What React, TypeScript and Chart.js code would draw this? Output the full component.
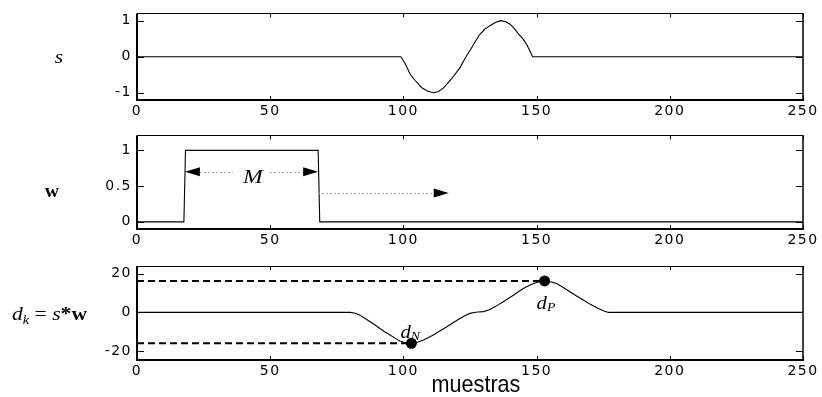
import React, { useEffect, useRef } from "react";
import { Chart, registerables } from "chart.js";

Chart.register(...registerables);

// ---------- data ----------
const xTicks = [0, 50, 100, 150, 200, 250];

// s : input signal
const sX = [0, 99, 100.6, 102.5, 104.4, 106.9, 109, 111.2, 113, 115, 118.1, 121.2, 123.1, 125.6, 128.5, 130.5, 132.5, 134.5, 136.5, 138.5, 140, 141.5, 143.1, 144.8, 146.3, 148.5, 250];
const sY = [0, 0, -0.18, -0.48, -0.66, -0.86, -0.95, -1.0, -0.97, -0.87, -0.61, -0.31, -0.05, 0.25, 0.6, 0.76, 0.86, 0.95, 1.0, 0.97, 0.9, 0.79, 0.64, 0.5, 0.34, 0, 0];
const sYTicks = [-1, 0, 1];

// w : rectangular window
const wX = [0, 17.6, 18.2, 68, 68.6, 250];
const wY = [0, 0, 1, 1, 0, 0];
const wYTicks = [0, 0.5, 1];
const mArrow = [18, 68, 0.7]; // from, to, level
const mLabelX = [43.5];
const shiftArrow = [68, 117, 0.405]; // from, to, level

// d = s * w
const dX = [0, 80, 82, 83.7, 85.5, 87.5, 89.5, 91.2, 93, 95, 96.8, 98.7, 101, 103, 105, 107.5, 109.5, 111.2, 113.8, 116.3, 118.8, 121.2, 123.2, 125, 126.5, 128, 130, 132, 133.7, 135.6, 137.5, 139.4, 141.3, 143.2, 145, 147, 148.8, 151, 153, 155.2, 157.5, 160, 162.5, 165, 167.5, 170, 172.6, 175, 177, 250];
const dY = [0, 0, -0.4, -1.4, -3.0, -4.8, -6.6, -8.3, -10.0, -11.7, -13.3, -14.8, -15.8, -16.2, -15.6, -14.3, -13.0, -11.7, -9.5, -7.4, -5.2, -3.1, -1.6, -0.5, 0.0, 0.2, 0.4, 1.2, 2.4, 3.9, 5.5, 7.2, 8.9, 10.7, 12.4, 13.8, 15.0, 15.9, 16.3, 15.9, 15.0, 12.9, 10.7, 8.5, 6.4, 4.3, 2.4, 0.9, 0, 0];
const dYTicks = [-20, 0, 20];
const dNPoint = [103, -16];
const dPPoint = [153, 16.3];

// ---------- helpers ----------
const TICK_FONT = { family: "'DejaVu Sans', sans-serif", size: 14 };
const TICK_SPACING = "1.5px";
const SERIF = "'Liberation Serif', 'Times New Roman', serif";

function pts(xs: number[], ys: number[]) {
  return xs.map((x, i) => ({ x, y: ys[i] }));
}

function drawFrame(chart: any) {
  const ctx = chart.ctx;
  const { left, right, top, bottom } = chart.chartArea;
  const xs = chart.scales.x;
  const ys = chart.scales.y;
  ctx.save();
  ctx.letterSpacing = "0px";
  ctx.setLineDash([]);
  ctx.strokeStyle = "#000";
  ctx.lineWidth = 1;
  ctx.beginPath();
  xs.ticks.forEach((t: any) => {
    const p = Math.round(xs.getPixelForValue(t.value)) + 0.5;
    ctx.moveTo(p, bottom);
    ctx.lineTo(p, bottom - 4);
    ctx.moveTo(p, top);
    ctx.lineTo(p, top + 4);
  });
  ys.ticks.forEach((t: any) => {
    const p = Math.round(ys.getPixelForValue(t.value)) + 0.5;
    ctx.moveTo(left, p);
    ctx.lineTo(left + 7, p);
    ctx.moveTo(right, p);
    ctx.lineTo(right - 7, p);
  });
  ctx.stroke();
  // box
  ctx.lineWidth = 1;
  ctx.beginPath();
  ctx.moveTo(left, Math.round(top) + 0.5);
  ctx.lineTo(right, Math.round(top) + 0.5);
  ctx.stroke();
  ctx.lineWidth = 1.5;
  ctx.beginPath();
  ctx.moveTo(right, top);
  ctx.lineTo(right, bottom);
  ctx.stroke();
  ctx.lineWidth = 2;
  ctx.beginPath();
  ctx.moveTo(left - 1, Math.round(bottom));
  ctx.lineTo(right + 1, Math.round(bottom));
  ctx.moveTo(Math.round(left), top);
  ctx.lineTo(Math.round(left), bottom);
  ctx.stroke();
  ctx.restore();
}

type Seg = { t: string; f: string; dy?: number };
function drawSegs(ctx: CanvasRenderingContext2D, segs: Seg[], x: number, y: number, sx: number, align: "left" | "center") {
  ctx.save();
  ctx.letterSpacing = "0px";
  ctx.fillStyle = "#000";
  ctx.textBaseline = "alphabetic";
  ctx.textAlign = "left";
  let total = 0;
  segs.forEach((s) => {
    ctx.font = s.f;
    total += ctx.measureText(s.t).width;
  });
  ctx.translate(x, y);
  ctx.scale(sx, 1);
  let cx = align === "center" ? -total / 2 : 0;
  segs.forEach((s) => {
    ctx.font = s.f;
    ctx.fillText(s.t, cx, s.dy || 0);
    cx += ctx.measureText(s.t).width;
  });
  ctx.restore();
}

function arrowHead(ctx: CanvasRenderingContext2D, tip: number, y: number, dir: number) {
  ctx.beginPath();
  ctx.moveTo(tip, y);
  ctx.lineTo(tip - dir * 15, y - 4.5);
  ctx.lineTo(tip - dir * 15, y + 4.5);
  ctx.closePath();
  ctx.fill();
}

function makeOptions(yMin: number, yMax: number, yTicks: number[], padTop: number, xHeight: number, extra: (chart: any) => void) {
  const plugin = {
    id: "frame",
    beforeDraw(chart: any) {
      chart.ctx.letterSpacing = TICK_SPACING;
    },
    afterDraw(chart: any) {
      chart.ctx.letterSpacing = "0px";
      drawFrame(chart);
      extra(chart);
    },
  };
  const options: any = {
    animation: false,
    responsive: false,
    maintainAspectRatio: false,
    layout: { padding: { top: padTop, right: 19, left: 0, bottom: 0 } },
    plugins: { legend: { display: false }, tooltip: { enabled: false } },
    elements: { point: { radius: 0 }, line: { tension: 0 } },
    scales: {
      x: {
        type: "linear",
        min: 0,
        max: 250,
        afterBuildTicks: (s: any) => {
          s.ticks = xTicks.map((v) => ({ value: v }));
        },
        grid: { display: false, drawTicks: false },
        border: { display: false },
        ticks: { font: TICK_FONT, color: "#000", padding: 3, maxRotation: 0, autoSkip: false, callback: (v: any) => String(v) },
        afterFit: (s: any) => {
          s.height = xHeight;
        },
      },
      y: {
        type: "linear",
        min: yMin,
        max: yMax,
        afterBuildTicks: (s: any) => {
          s.ticks = yTicks.map((v) => ({ value: v }));
        },
        grid: { display: false, drawTicks: false },
        border: { display: false },
        ticks: { font: TICK_FONT, color: "#000", padding: 5, autoSkip: false, callback: (v: any) => String(v) },
        afterFit: (s: any) => {
          s.width = 137;
        },
      },
    },
  };
  return { options, plugin };
}

const line = (data: any[], extra: any = {}) => ({
  data,
  showLine: true,
  borderColor: "#000",
  backgroundColor: "#000",
  borderWidth: 1.1,
  pointRadius: 0,
  ...extra,
});

export default function App() {
  const c1 = useRef<HTMLCanvasElement>(null);
  const c2 = useRef<HTMLCanvasElement>(null);
  const c3 = useRef<HTMLCanvasElement>(null);

  useEffect(() => {
    const charts: Chart[] = [];

    // panel 1 : s
    {
      const { options, plugin } = makeOptions(-1.2, 1.2, sYTicks, 7, 22, (chart) => {
        drawSegs(chart.ctx, [{ t: "s", f: `italic 18px ${SERIF}` }], 59, 63, 1.2, "center");
      });
      charts.push(
        new Chart(c1.current!, {
          type: "scatter",
          data: { datasets: [line(pts(sX, sY))] },
          options,
          plugins: [plugin],
        })
      );
    }

    // panel 2 : w
    {
      const { options, plugin } = makeOptions(-0.1, 1.21, wYTicks, 13, 19, (chart) => {
        const ctx = chart.ctx as CanvasRenderingContext2D;
        const xs = chart.scales.x;
        const ys = chart.scales.y;
        const yM = ys.getPixelForValue(mArrow[2]);
        const x1 = xs.getPixelForValue(mArrow[0]);
        const x2 = xs.getPixelForValue(mArrow[1]);
        const mx = xs.getPixelForValue(mLabelX[0]);
        const y2 = ys.getPixelForValue(shiftArrow[2]);
        const s1 = xs.getPixelForValue(shiftArrow[0]);
        const s2 = xs.getPixelForValue(shiftArrow[1]);
        ctx.save();
        ctx.strokeStyle = "#a0a0a0";
        ctx.lineWidth = 1;
        ctx.setLineDash([2, 2]);
        ctx.beginPath();
        ctx.moveTo(x1 + 15, Math.round(yM) + 0.5);
        ctx.lineTo(mx - 20, Math.round(yM) + 0.5);
        ctx.moveTo(mx + 17, Math.round(yM) + 0.5);
        ctx.lineTo(x2 - 15, Math.round(yM) + 0.5);
        ctx.moveTo(s1, Math.round(y2) + 0.5);
        ctx.lineTo(s2 - 15, Math.round(y2) + 0.5);
        ctx.stroke();
        ctx.setLineDash([]);
        ctx.fillStyle = "#000";
        arrowHead(ctx, x1, yM, -1);
        arrowHead(ctx, x2, yM, 1);
        arrowHead(ctx, s2, y2, 1);
        ctx.restore();
        drawSegs(ctx, [{ t: "M", f: `italic 19px ${SERIF}` }], mx, yM + 11.5, 1.25, "center");
        drawSegs(ctx, [{ t: "w", f: `bold 18px ${SERIF}` }], 52, 75, 1.1, "center");
      });
      charts.push(
        new Chart(c2.current!, {
          type: "scatter",
          data: { datasets: [line(pts(wX, wY))] },
          options,
          plugins: [plugin],
        })
      );
    }

    // panel 3 : d
    {
      const { options, plugin } = makeOptions(-24.6, 24, dYTicks, 18, 37, (chart) => {
        const ctx = chart.ctx as CanvasRenderingContext2D;
        const xs = chart.scales.x;
        const ys = chart.scales.y;
        const nx = xs.getPixelForValue(dNPoint[0]);
        const ny = ys.getPixelForValue(dNPoint[1]);
        const px = xs.getPixelForValue(dPPoint[0]);
        const py = ys.getPixelForValue(dPPoint[1]);
        drawSegs(ctx, [
          { t: "d", f: `italic 18px ${SERIF}` },
          { t: "N", f: `italic 12px ${SERIF}`, dy: 2 },
        ], nx - 11, ny - 5, 1.15, "left");
        drawSegs(ctx, [
          { t: "d", f: `italic 18px ${SERIF}` },
          { t: "P", f: `italic 12px ${SERIF}`, dy: 2 },
        ], px - 8, py + 28, 1.15, "left");
        drawSegs(ctx, [
          { t: "d", f: `italic 18px ${SERIF}` },
          { t: "k", f: `italic 12px ${SERIF}`, dy: 4 },
          { t: " = ", f: `18px ${SERIF}` },
          { t: "s", f: `italic 18px ${SERIF}` },
          { t: "*", f: `bold 18px ${SERIF}` },
          { t: "w", f: `bold 18px ${SERIF}` },
        ], 12, 72, 1.2, "left");
        drawSegs(ctx, [{ t: "muestras", f: `24px 'Liberation Sans', Arial, sans-serif` }], 476, 143.5, 0.9, "center");
      });
      charts.push(
        new Chart(c3.current!, {
          type: "scatter",
          data: {
            datasets: [
              line(pts(dX, dY)),
              line([{ x: 0, y: dNPoint[1] }, { x: dNPoint[0], y: dNPoint[1] }], { borderWidth: 2, borderDash: [7, 4] }),
              line([{ x: 0, y: dPPoint[1] }, { x: dPPoint[0], y: dPPoint[1] }], { borderWidth: 2, borderDash: [7, 4] }),
              {
                data: [{ x: dNPoint[0], y: dNPoint[1] }, { x: dPPoint[0], y: dPPoint[1] }],
                showLine: false,
                pointRadius: 5.5,
                pointBackgroundColor: "#000",
                pointBorderColor: "#000",
                borderWidth: 0,
              },
            ],
          },
          options,
          plugins: [plugin],
        })
      );
    }

    return () => charts.forEach((c) => c.destroy());
  }, []);

  const cs = (top: number, height: number): React.CSSProperties => ({
    position: "absolute",
    left: 0,
    top,
    width: 822,
    height,
    display: "block",
  });

  return (
    <div style={{ position: "fixed", left: 0, top: 0, width: 822, height: 397, background: "#fff" }}>
      <canvas ref={c1} width={822} height={122} style={cs(0, 122)} />
      <canvas ref={c2} width={822} height={126} style={cs(122, 126)} />
      <canvas ref={c3} width={822} height={149} style={cs(248, 149)} />
    </div>
  );
}
